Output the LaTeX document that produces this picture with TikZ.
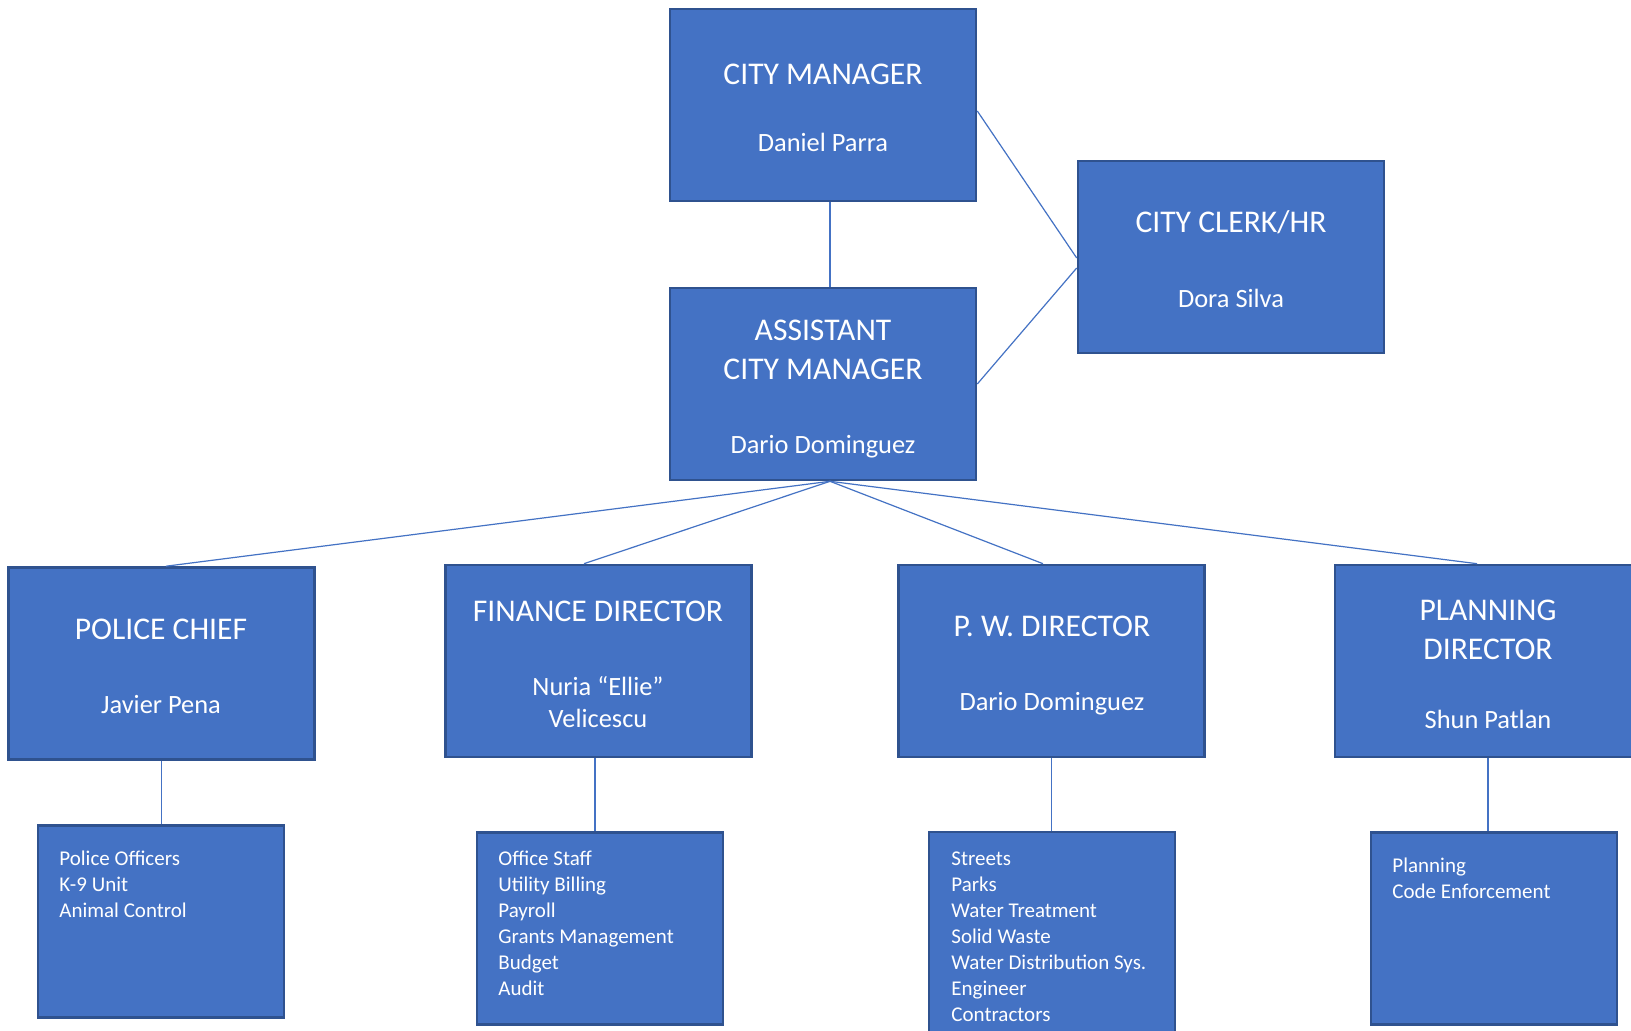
\documentclass[tikz,border=0pt]{standalone}
\usepackage{fontspec}
\setmainfont{Carlito}
\usetikzlibrary{calc}
\definecolor{boxblue}{HTML}{4472C4}
\definecolor{boxedge}{HTML}{2F528F}
\begin{document}
\begin{tikzpicture}[x=0.5pt,y=-0.5pt,
  box/.style={draw=boxedge,fill=boxblue,line width=1.3pt,inner sep=0pt,
    minimum width=153pt,minimum height=96pt},
  subbox/.style={box,minimum width=123pt},
  head/.style={text=white,inner sep=0pt,align=center,anchor=mid,
    font=\fontsize{15.8}{19.75}\selectfont},
  person/.style={text=white,inner sep=0pt,align=center,anchor=mid,
    font=\fontsize{13.2}{16.25}\selectfont},
  duties/.style={text=white,inner sep=0pt,align=left,anchor=north west,
    font=\fontsize{10.5}{13}\selectfont},
  link/.style={draw=boxblue,line width=0.6pt}]
\useasboundingbox (0,0) rectangle (1631,1031);
\fill[white] (0,0) rectangle (1631,1031);

% upper boxes
\node[box] (cm) at (823,105) {};
\node[head] (cmT) at (823,80) {CITY MANAGER};
\node[person] (cmN) at (823,146.5) {Daniel Parra};

\node[box] (asst) at (823,384) {};
\node[head,anchor=center] (asT1) at (823,350) {ASSISTANT\\CITY MANAGER};
\node[person] (asN) at (823,449) {Dario Dominguez};

\node[box] (clerk) at (1231,257) {};
\node[head] (clT) at (1231,228) {CITY CLERK/HR};
\node[person] (clN) at (1231,302.5) {Dora Silva};

% department heads
\node[box] (pol) at (161.5,663.5) {};
\node[head] (polT) at (161,635) {POLICE CHIEF};
\node[person] (polN) at (161,709) {Javier Pena};

\node[box] (fin) at (598.5,661) {};
\node[head] (finT) at (598,617) {FINANCE DIRECTOR};
\node[person,anchor=center] (finN) at (598,702) {Nuria “Ellie”\\Velicescu};

\node[box] (pw) at (1051.5,661) {};
\node[head] (pwT) at (1052,632) {P. W. DIRECTOR};
\node[person] (pwN) at (1052,706) {Dario Dominguez};

\node[box] (plan) at (1488,661) {};
\node[head,anchor=center] (plT) at (1488,630) {PLANNING\\DIRECTOR};
\node[person] (plN) at (1488,724) {Shun Patlan};

% divisions
\node[subbox] (polS) at (161,921.5) {};
\node[duties] (polD) at (59,851) {Police Officers\\K-9 Unit\\Animal Control};

\node[subbox] (finS) at (600,928.5) {};
\node[duties] (finD) at (498,851) {Office Staff\\Utility Billing\\Payroll\\Grants Management\\Budget\\Audit};

\node[subbox,minimum height=110pt] (pwS) at (1052,942) {};
\node[duties] (pwD) at (951,851) {Streets\\Parks\\Water Treatment\\Solid Waste\\Water Distribution Sys.\\Engineer\\Contractors};

\node[subbox] (plS) at (1494,928.5) {};
\node[duties] (plD) at (1392,858) {Planning\\Code Enforcement};

% reporting lines
\draw[link] ([xshift=3.5pt]cm.south) -- ([xshift=3.5pt]asst.north);
\draw[link] ([yshift=-3pt]cm.east) -- ([yshift=-0.5pt]clerk.west);
\draw[link] (asst.east) -- ([yshift=-5.5pt]clerk.west);
\draw[link] ([xshift=3.5pt]asst.south) -- ([xshift=2.25pt]pol.north);
\draw[link] ([xshift=3.5pt]asst.south) -- ([xshift=-7.25pt]fin.north);
\draw[link] ([xshift=3.5pt]asst.south) -- ([xshift=-4.25pt]pw.north);
\draw[link] ([xshift=3.5pt]asst.south) -- ([xshift=-5.5pt]plan.north);
\draw[link] (pol.south) -- (pol.south |- polS.north);
\draw[link] ([xshift=-1.75pt]fin.south) -- ([xshift=-1.75pt]fin.south |- finS.north);
\draw[link] (pw.south) -- (pw.south |- pwS.north);
\draw[link] (plan.south) -- (plan.south |- plS.north);
\end{tikzpicture}
\end{document}
